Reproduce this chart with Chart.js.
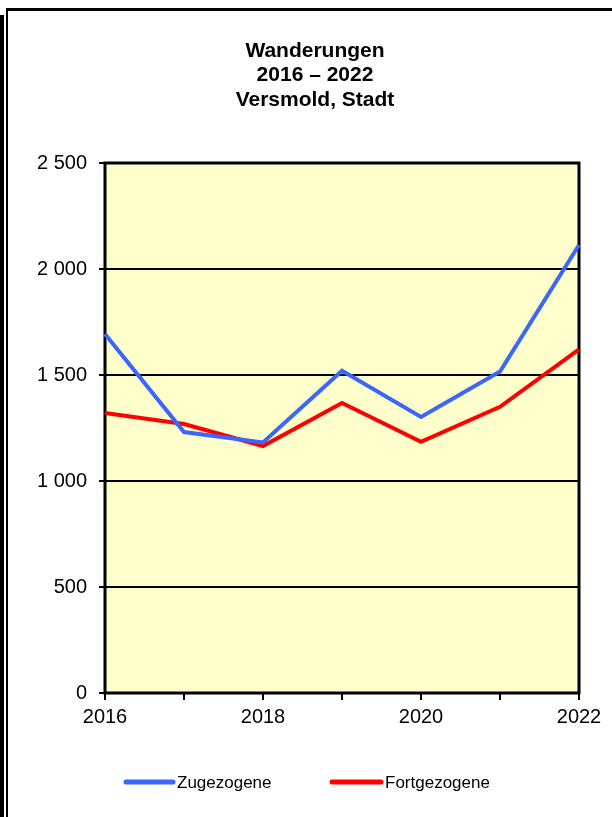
<!DOCTYPE html>
<html>
<head>
<meta charset="utf-8">
<script src="https://cdn.jsdelivr.net/npm/chart.js@4/dist/chart.umd.min.js"></script>
<style>
  html, body { margin: 0; padding: 0; background: #ffffff; }
  #wrap { position: relative; width: 612px; height: 817px; }
</style>
</head>
<body>
<div id="wrap"><canvas id="c" width="612" height="817"></canvas></div>
<script>
const years = ['2016', '2017', '2018', '2019', '2020', '2021', '2022'];
const zugezogene = [1693, 1231, 1182, 1520, 1302, 1516, 2113];
const fortgezogene = [1321, 1269, 1165, 1368, 1185, 1350, 1621];
const titleLines = ['Wanderungen', '2016 \u2013 2022', 'Versmold, Stadt'];
const seriesNames = ['Zugezogene', 'Fortgezogene'];
const yTicks = { min: 0, max: 2500, step: 500 };

const FONT = "'Liberation Sans', Arial, sans-serif";

function fmt(v) {
  if (v >= 1000) return Math.floor(v / 1000) + ' ' + String(v % 1000).padStart(3, '0');
  return String(v);
}

const decor = {
  id: 'decor',
  beforeDraw(chart) {
    const ctx = chart.ctx;
    const a = chart.chartArea;
    ctx.save();
    ctx.fillStyle = '#ffffff';
    ctx.fillRect(0, 0, chart.width, chart.height);
    // outer frame
    ctx.fillStyle = '#000000';
    ctx.fillRect(0, 15, 4, chart.height - 15);
    ctx.fillRect(6, 8, chart.width - 6, 3);
    ctx.fillRect(6, 8, 2, chart.height - 8);
    // plot background
    ctx.fillStyle = '#ffffcc';
    ctx.fillRect(a.left, a.top, a.right - a.left, a.bottom - a.top);
    // title
    ctx.fillStyle = '#000000';
    ctx.font = 'bold 21px ' + FONT;
    ctx.textAlign = 'center';
    ctx.textBaseline = 'middle';
    const cx = 315;
    titleLines.forEach((t, i) => ctx.fillText(t, cx, 51 + i * 24.5));
    ctx.restore();
  },
  beforeDatasetsDraw(chart) {
    const ctx = chart.ctx;
    const a = chart.chartArea;
    ctx.save();
    ctx.strokeStyle = '#000000';
    ctx.lineWidth = 3;
    ctx.strokeRect(a.left, a.top, a.right - a.left, a.bottom - a.top);
    ctx.restore();
  },
  afterDraw(chart) {
    const ctx = chart.ctx;
    ctx.save();
    const items = [
      { x1: 126, x2: 173, tx: 177, color: '#3a66ff', name: seriesNames[0] },
      { x1: 332, x2: 381, tx: 385, color: '#ff0000', name: seriesNames[1] }
    ];
    const y = 782;
    ctx.font = '17px ' + FONT;
    ctx.textBaseline = 'middle';
    ctx.textAlign = 'left';
    items.forEach(it => {
      ctx.strokeStyle = it.color;
      ctx.lineWidth = 5;
      ctx.lineCap = 'round';
      ctx.beginPath();
      ctx.moveTo(it.x1, y);
      ctx.lineTo(it.x2, y);
      ctx.stroke();
      ctx.fillStyle = '#000000';
      ctx.fillText(it.name, it.tx, y + 1);
    });
    ctx.restore();
  }
};

new Chart(document.getElementById('c'), {
  type: 'line',
  data: {
    labels: years,
    datasets: [
      { label: seriesNames[0], data: zugezogene, borderColor: '#3a66ff', backgroundColor: '#3a66ff',
        borderWidth: 4, pointRadius: 0, tension: 0, fill: false },
      { label: seriesNames[1], data: fortgezogene, borderColor: '#ff0000', backgroundColor: '#ff0000',
        borderWidth: 4, pointRadius: 0, tension: 0, fill: false }
    ]
  },
  options: {
    responsive: false,
    animation: false,
    devicePixelRatio: 1,
    layout: { padding: { top: 163, right: 33, left: 0, bottom: 0 } },
    plugins: { legend: { display: false }, title: { display: false }, tooltip: { enabled: false } },
    scales: {
      x: {
        type: 'category',
        offset: false,
        afterFit(s) { s.height = 124; },
        grid: { display: true, drawOnChartArea: false, drawTicks: true, tickLength: 7, color: '#000000', lineWidth: 2 },
        border: { display: false },
        ticks: {
          autoSkip: false, maxRotation: 0, minRotation: 0, padding: 5, color: '#000000',
          font: { family: FONT, size: 20 },
          callback(v, i) { return i % 2 === 0 ? years[i] : ''; }
        }
      },
      y: {
        min: yTicks.min, max: yTicks.max,
        afterFit(s) { s.width = 105; },
        grid: { display: true, drawOnChartArea: true, drawTicks: true, tickLength: 6, color: '#000000', lineWidth: 2 },
        border: { display: false },
        ticks: {
          stepSize: yTicks.step, padding: 12, color: '#000000',
          font: { family: FONT, size: 20 },
          callback(v) { return fmt(v); }
        }
      }
    }
  },
  plugins: [decor]
});
</script>
</body>
</html>
